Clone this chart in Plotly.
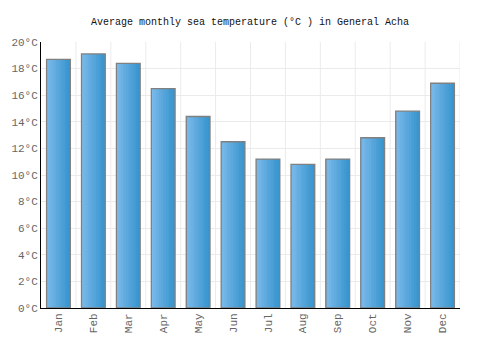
import plotly.graph_objects as go
import numpy as np

months = ["Jan", "Feb", "Mar", "Apr", "May", "Jun", "Jul", "Aug", "Sep", "Oct", "Nov", "Dec"]
temps = [18.7, 19.1, 18.4, 16.5, 14.4, 12.5, 11.2, 10.8, 11.2, 12.8, 14.8, 16.9]
y_ticks = [0, 2, 4, 6, 8, 10, 12, 14, 16, 18, 20]
y_labels = [f"{v}°C" for v in y_ticks]

FONT = "Liberation Mono, DejaVu Sans Mono, monospace"
bar_w = 0.68
n_strips = 14
c0 = np.array([0x7c, 0xba, 0xeb])
c1 = np.array([0x38, 0x95, 0xce])

xi = list(range(len(months)))
fig = go.Figure()
sw = bar_w / n_strips
for k in range(n_strips):
    t = k / (n_strips - 1)
    c = (c0 * (1 - t) + c1 * t).astype(int)
    fig.add_trace(go.Bar(
        x=xi, y=temps, width=sw * 1.02, offset=-bar_w / 2 + k * sw,
        marker=dict(color=f"rgb({c[0]},{c[1]},{c[2]})", line=dict(width=0)),
        hoverinfo="skip", showlegend=False))
fig.add_trace(go.Bar(
    x=xi, y=temps, width=bar_w, offset=-bar_w / 2,
    marker=dict(color="rgba(0,0,0,0)", line=dict(color="#808080", width=1.3)),
    showlegend=False))

fig.update_layout(
    barmode="overlay",
    width=500, height=350,
    margin=dict(l=41, r=40, t=42, b=42),
    paper_bgcolor="white", plot_bgcolor="white",
    font=dict(family=FONT, size=10, color="#666666"),
    title=dict(text="Average monthly sea temperature (°C ) in General Acha",
               x=0.5, xanchor="center", y=1 - 21 / 350, yanchor="middle",
               font=dict(family=FONT, size=10, color="#111111")),
    xaxis=dict(
        range=[-0.5, 11.5], tickmode="array", tickvals=xi, ticktext=months,
        tickangle=-90, showgrid=False, zeroline=False,
        showline=True, linecolor="#000000", linewidth=1,
        ticks="", tickfont=dict(family=FONT, size=11, color="#666666")),
    yaxis=dict(
        range=[0, 20], tickmode="array", tickvals=y_ticks, ticktext=y_labels,
        showgrid=True, gridcolor="#ebebeb", gridwidth=1, zeroline=False,
        showline=True, linecolor="#000000", linewidth=1,
        ticks="", tickfont=dict(family=FONT, size=11, color="#666666")),
)
for b in np.arange(0.5, 12.0, 1.0):
    fig.add_vline(x=b, line=dict(color="#ebebeb", width=1), layer="below")

fig.write_html("out.html")
